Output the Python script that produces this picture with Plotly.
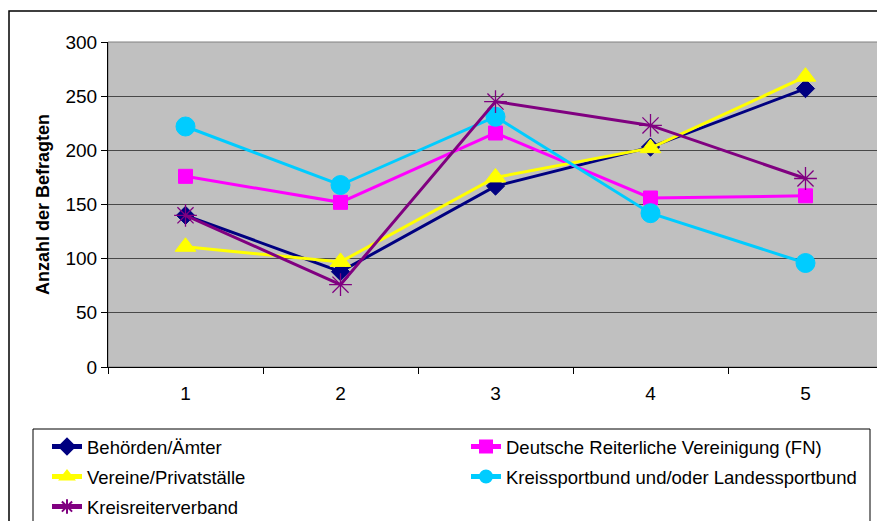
import plotly.graph_objects as go

categories = ["1", "2", "3", "4", "5"]
behoerden = [140, 88, 167, 203, 257]
reiter_fn = [176, 152, 216, 156, 158]
vereine = [111, 97, 175, 202, 268]
kreissport = [222, 168, 231, 142, 96]
kreisreiter = [140, 76, 245, 223, 174]
y_ticks = [0, 50, 100, 150, 200, 250, 300]

# (name, values, colour, symbol, size, marker line width, legend id)
series = [
    ("Behörden/Ämter", behoerden, "#000080", "diamond", 14, 1, "legend"),
    ("Deutsche Reiterliche Vereinigung (FN)", reiter_fn, "#FF00FF", "square", 14, 1, "legend"),
    ("Vereine/Privatställe", vereine, "#FFFF00", "triangle-up", 18, 1, "legend2"),
    ("Kreissportbund und/oder Landessportbund", kreissport, "#00CCFF", "circle", 19, 1, "legend2"),
    ("Kreisreiterverband", kreisreiter, "#800080", "asterisk-open", 19, 1.3, "legend3"),
]

fig = go.Figure()
for name, vals, col, sym, size, lw, leg in series:
    fig.add_trace(go.Scatter(
        x=categories, y=vals, name=name, mode="lines+markers",
        line=dict(color=col, width=3),
        marker=dict(symbol=sym, size=size, color=col, line=dict(color=col, width=lw)),
        legend=leg,
    ))

# page body has an 8px offset; figure coordinates below are page coords minus 8
W, H = 877, 513
L, R, T, B = 100, 2, 34, 154
pw, ph = W - L - R, H - T - B

def px(x):
    return (x - L) / pw

def py(y):
    return (H - B - y) / ph

shapes = [
    dict(type="rect", xref="paper", yref="paper", x0=px(1), y0=py(560), x1=px(900), y1=py(3),
         line=dict(color="black", width=1.5), fillcolor="rgba(0,0,0,0)", layer="below"),
    dict(type="rect", xref="paper", yref="paper", x0=px(25), y0=py(560), x1=px(862), y1=py(421),
         line=dict(color="black", width=1), fillcolor="rgba(0,0,0,0)", layer="below"),
    dict(type="rect", xref="paper", yref="paper", x0=0, y0=0, x1=1, y1=1,
         line=dict(color="#808080", width=1), fillcolor="rgba(0,0,0,0)", layer="below"),
]

def leg(yc):
    return dict(
        orientation="h", x=px(39), y=py(yc), xanchor="left", yanchor="middle",
        font=dict(size=18.5, color="black", family="Liberation Sans, Arial, sans-serif"),
        entrywidth=374, entrywidthmode="pixels",
        bgcolor="rgba(0,0,0,0)", borderwidth=0, traceorder="normal",
        itemsizing="constant",
    )

fig.update_layout(
    width=W, height=H,
    margin=dict(l=L, r=R, t=T, b=B, autoexpand=False),
    paper_bgcolor="white",
    plot_bgcolor="#C0C0C0",
    font=dict(family="Liberation Sans, Arial, sans-serif", color="black"),
    shapes=shapes,
    showlegend=True,
    legend=leg(439),
    legend2=leg(469),
    legend3=leg(499),
    xaxis=dict(
        type="category", categoryorder="array", categoryarray=categories,
        range=[-0.5, 4.5], showgrid=False,
        showline=True, linecolor="black", linewidth=1,
        ticks="outside", tickson="boundaries", ticklen=6, tickcolor="black",
        tickfont=dict(size=19), zeroline=False, ticklabelstandoff=9,
    ),
    yaxis=dict(
        range=[0, 300], tickvals=y_ticks,
        showgrid=True, gridcolor="#484848", gridwidth=1,
        showline=True, linecolor="black", linewidth=1,
        ticks="outside", ticklen=6, tickcolor="black",
        tickfont=dict(size=19), zeroline=False,
        title=dict(text="<b>Anzahl der Befragten</b>", font=dict(size=18), standoff=11),
    ),
)

fig.write_html("out.html")
